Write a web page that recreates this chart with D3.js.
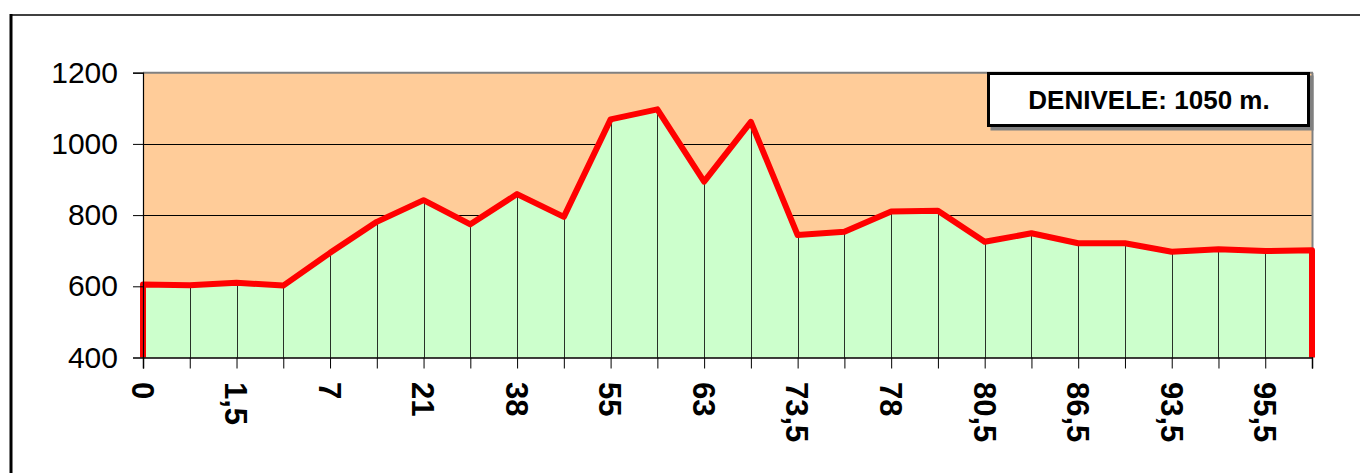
<!DOCTYPE html>
<html>
<head>
<meta charset="utf-8">
<script src="https://cdn.jsdelivr.net/npm/d3@7"></script>
<style>
  html, body { margin: 0; padding: 0; background: #fff; }
  svg { display: block; font-family: Arial, "Liberation Sans", sans-serif; }
</style>
</head>
<body>
<svg id="chart" width="1360" height="473"></svg>
<script>
// Elevation profile (m) at each of the 26 points along the route
const elevations = [605, 603, 610, 602, 694, 781, 842, 774, 859, 795, 1069, 1097, 894,
                    1062, 744, 753, 810, 812, 725, 749, 721, 721, 697, 704, 699, 701];
// Distance labels shown on the axis (every other point is labelled)
const distanceLabels = ["0", "1,5", "7", "21", "38", "55", "63", "73,5", "78", "80,5", "86,5", "93,5", "95,5"];
const yTicks = [400, 600, 800, 1000, 1200];
const yGrid = [600, 800, 1000];
const legendText = "DENIVELE: 1050 m.";

const svg = d3.select("#chart");
const pLeft = 143, pRight = 1312, pTop = 72.7, pBottom = 357.5;

const idx = d3.range(elevations.length);
const x = d3.scalePoint().domain(idx).range([pLeft, pRight]);
const y = d3.scaleLinear().domain([400, 1200]).range([pBottom, pTop]);

// chart area frame
svg.append("line").attr("x1", 10).attr("x2", 1360).attr("y1", 15).attr("y2", 15)
  .attr("stroke", "#404040").attr("stroke-width", 2);
svg.append("line").attr("x1", 11).attr("x2", 11).attr("y1", 14).attr("y2", 473)
  .attr("stroke", "#000").attr("stroke-width", 3);

// plot background
svg.append("rect").attr("x", pLeft).attr("y", pTop).attr("width", pRight - pLeft).attr("height", pBottom - pTop)
  .attr("fill", "#FFCC99");

// gridlines
svg.append("g").selectAll("line").data(yGrid).join("line")
  .attr("x1", pLeft).attr("x2", pRight)
  .attr("y1", d => Math.round(y(d)) + 0.5).attr("y2", d => Math.round(y(d)) + 0.5)
  .attr("stroke", "#000").attr("stroke-width", 1);

// area
const area = d3.area().x((d, i) => x(i)).y0(y(400)).y1(d => y(d));
svg.append("path").datum(elevations).attr("d", area).attr("fill", "#CCFFCC");

// drop lines
svg.append("g").selectAll("line").data(elevations).join("line")
  .attr("x1", (d, i) => Math.round(x(i)) + 0.5).attr("x2", (d, i) => Math.round(x(i)) + 0.5)
  .attr("y1", d => y(d)).attr("y2", pBottom)
  .attr("stroke", "#000").attr("stroke-width", 1).attr("opacity", 0.8);

// plot border (top, right)
svg.append("line").attr("x1", pLeft).attr("x2", pRight + 1).attr("y1", pTop).attr("y2", pTop)
  .attr("stroke", "#808080").attr("stroke-width", 2);
svg.append("line").attr("x1", pRight + 0.5).attr("x2", pRight + 0.5).attr("y1", pTop).attr("y2", pBottom)
  .attr("stroke", "#808080").attr("stroke-width", 2);

// red outline of the area (left edge, profile, right edge)
const outline = [[x(0), y(400)]].concat(elevations.map((d, i) => [x(i), y(d)]))
  .concat([[x(elevations.length - 1), y(400)]]);
svg.append("path").attr("d", d3.line()(outline))
  .attr("fill", "none").attr("stroke", "#FF0000").attr("stroke-width", 6)
  .attr("stroke-linejoin", "round");

// y axis
const yAxis = svg.append("g").attr("transform", `translate(${pLeft},0)`)
  .call(d3.axisLeft(y).tickValues(yTicks).tickSize(10).tickPadding(15).tickFormat(d3.format("d")));
yAxis.select(".domain").attr("stroke", "#000").attr("stroke-width", 1.2);
yAxis.selectAll(".tick line").attr("stroke", "#000");
yAxis.selectAll(".tick text").attr("font-size", 30).attr("fill", "#000")
  .attr("font-family", "Arial, 'Liberation Sans', sans-serif");

// x axis
const xAxis = svg.append("g").attr("transform", `translate(0,${pBottom})`)
  .call(d3.axisBottom(x).tickSize(11).tickFormat(""));
xAxis.select(".domain").attr("stroke", "#000").attr("stroke-width", 1.5);
xAxis.selectAll(".tick line").attr("stroke", "#000");

svg.append("g").selectAll("text").data(distanceLabels).join("text")
  .attr("transform", (d, i) => `translate(${x(i * 2)},382) rotate(90)`)
  .attr("text-anchor", "start").attr("dy", "0.36em")
  .attr("font-size", 31).attr("font-weight", "bold").attr("fill", "#000")
  .text(d => d);

// legend box
const lg = svg.append("g");
lg.append("rect").attr("x", 990.5).attr("y", 75.5).attr("width", 323).attr("height", 55).attr("fill", "#808080");
lg.append("rect").attr("x", 988.5).attr("y", 73.5).attr("width", 320).attr("height", 52)
  .attr("fill", "#fff").attr("stroke", "#000").attr("stroke-width", 3);
lg.append("text").attr("x", 1149).attr("y", 109).attr("text-anchor", "middle")
  .attr("font-size", 26).attr("font-weight", "bold").attr("fill", "#000").text(legendText);
</script>
</body>
</html>
